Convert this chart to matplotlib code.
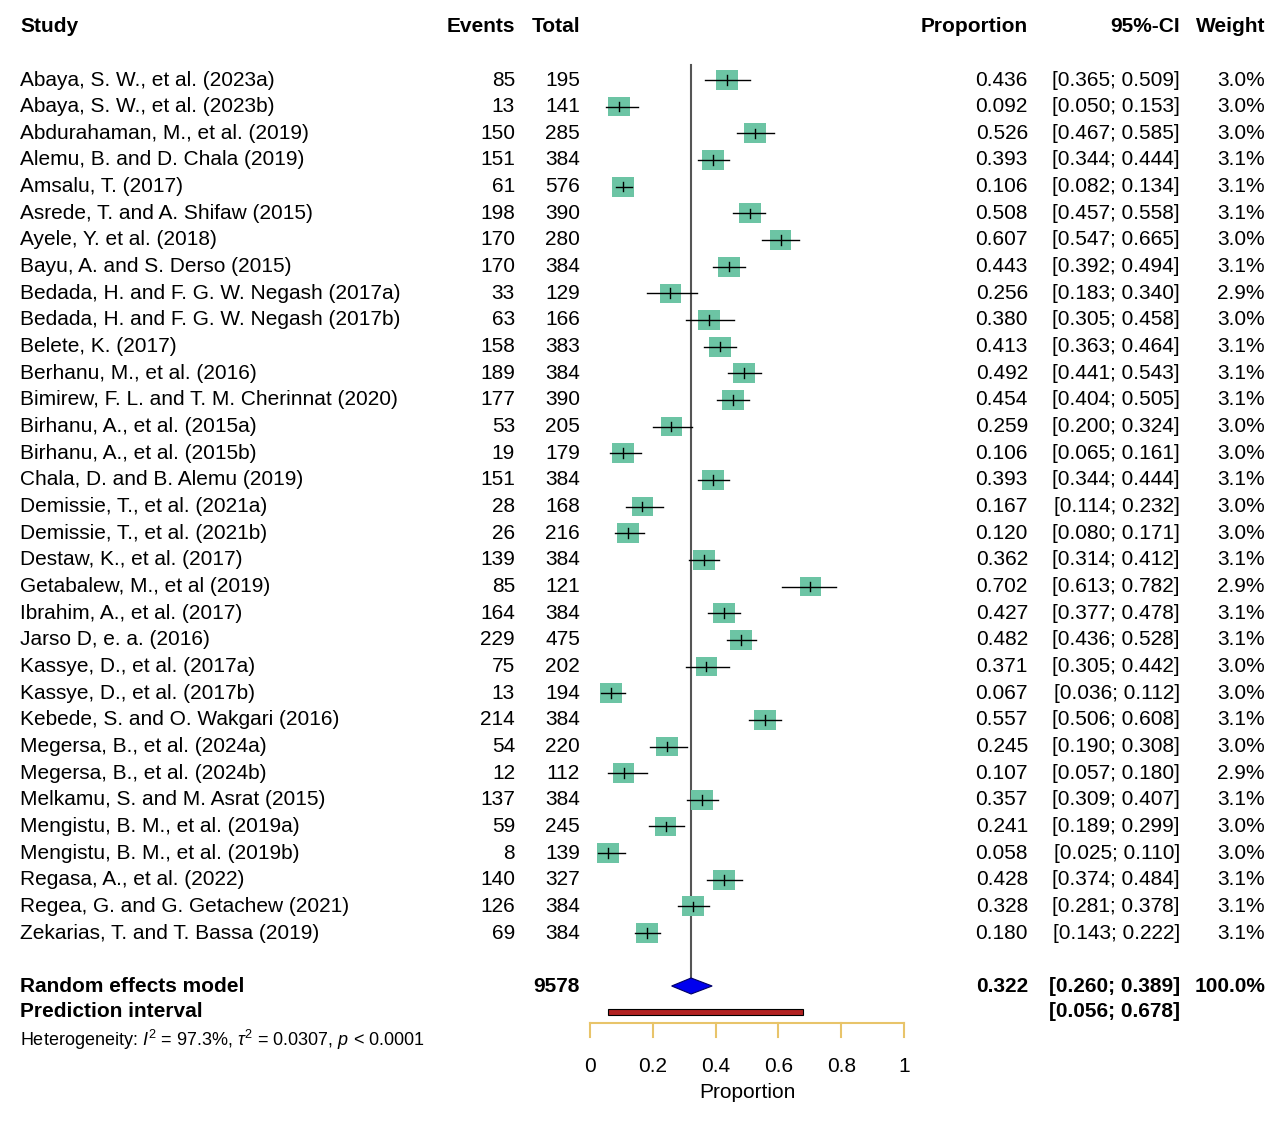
import matplotlib
matplotlib.use("Agg")
import matplotlib.pyplot as plt
from matplotlib.patches import Rectangle, Polygon

plt.rcParams['font.family'] = ['Liberation Sans', 'DejaVu Sans']
plt.rcParams['mathtext.fontset'] = 'custom'
plt.rcParams['mathtext.it'] = 'Liberation Sans:italic'
plt.rcParams['mathtext.rm'] = 'Liberation Sans'

studies = ["Abaya, S. W., et al. (2023a)","Abaya, S. W., et al. (2023b)","Abdurahaman, M., et al. (2019)",
"Alemu, B. and D. Chala (2019)","Amsalu, T. (2017)","Asrede, T. and A. Shifaw (2015)","Ayele, Y. et al. (2018)",
"Bayu, A. and S. Derso (2015)","Bedada, H. and F. G. W. Negash (2017a)","Bedada, H. and F. G. W. Negash (2017b)",
"Belete, K. (2017)","Berhanu, M., et al. (2016)","Bimirew, F. L. and T. M. Cherinnat (2020)","Birhanu, A., et al. (2015a)",
"Birhanu, A., et al. (2015b)","Chala, D. and B. Alemu (2019)","Demissie, T., et al. (2021a)","Demissie, T., et al. (2021b)",
"Destaw, K., et al. (2017)","Getabalew, M., et al (2019)","Ibrahim, A., et al. (2017)","Jarso D, e. a. (2016)",
"Kassye, D., et al. (2017a)","Kassye, D., et al. (2017b)","Kebede, S. and O. Wakgari (2016)","Megersa, B., et al. (2024a)",
"Megersa, B., et al. (2024b)","Melkamu, S. and M. Asrat (2015)","Mengistu, B. M., et al. (2019a)","Mengistu, B. M., et al. (2019b)",
"Regasa, A., et al. (2022)","Regea, G. and G. Getachew (2021)","Zekarias, T. and T. Bassa (2019)"]
events = [85,13,150,151,61,198,170,170,33,63,158,189,177,53,19,151,28,26,139,85,164,229,75,13,214,54,12,137,59,8,140,126,69]
totals = [195,141,285,384,576,390,280,384,129,166,383,384,390,205,179,384,168,216,384,121,384,475,202,194,384,220,112,384,245,139,327,384,384]
prop = [0.436,0.092,0.526,0.393,0.106,0.508,0.607,0.443,0.256,0.380,0.413,0.492,0.454,0.259,0.106,0.393,0.167,0.120,0.362,0.702,0.427,0.482,0.371,0.067,0.557,0.245,0.107,0.357,0.241,0.058,0.428,0.328,0.180]
lo = [0.365,0.050,0.467,0.344,0.082,0.457,0.547,0.392,0.183,0.305,0.363,0.441,0.404,0.200,0.065,0.344,0.114,0.080,0.314,0.613,0.377,0.436,0.305,0.036,0.506,0.190,0.057,0.309,0.189,0.025,0.374,0.281,0.143]
hi = [0.509,0.153,0.585,0.444,0.134,0.558,0.665,0.494,0.340,0.458,0.464,0.543,0.505,0.324,0.161,0.444,0.232,0.171,0.412,0.782,0.478,0.528,0.442,0.112,0.608,0.308,0.180,0.407,0.299,0.110,0.484,0.378,0.222]
weights = [3.0,3.0,3.0,3.1,3.1,3.1,3.0,3.1,2.9,3.0,3.1,3.1,3.1,3.0,3.0,3.1,3.0,3.0,3.1,2.9,3.1,3.1,3.0,3.0,3.1,3.0,2.9,3.1,3.0,3.0,3.1,3.1,3.1]
re_est, re_lo, re_hi = 0.322, 0.260, 0.389
pi_lo, pi_hi = 0.056, 0.678
total_n = 9578
ticks = [0, 0.2, 0.4, 0.6, 0.8, 1]
tick_labels = ["0", "0.2", "0.4", "0.6", "0.8", "1"]

W, H = 1280, 1125
fig = plt.figure(figsize=(W/100, H/100), dpi=100)
ax = fig.add_axes([0, 0, 1, 1])
x0, sx = 590, 314.0
y0, sy = 80, 26.66
ax.set_xlim(-x0/sx, (W-x0)/sx)
ax.set_ylim((H-y0)/sy, -y0/sy)
ax.axis("off")
def px(p): return (p - x0)/sx
fs = 15
n = len(studies)
hdr = -53/sy
ax.text(px(20), hdr, "Study", fontsize=fs, fontweight="bold", va="center", ha="left")
ax.text(px(515), hdr, "Events", fontsize=fs, fontweight="bold", va="center", ha="right")
ax.text(px(580), hdr, "Total", fontsize=fs, fontweight="bold", va="center", ha="right")
ax.text(px(1028), hdr, "Proportion", fontsize=fs, fontweight="bold", va="center", ha="right")
ax.text(px(1180), hdr, "95%-CI", fontsize=fs, fontweight="bold", va="center", ha="right")
ax.text(px(1265), hdr, "Weight", fontsize=fs, fontweight="bold", va="center", ha="right")

for i in range(n):
    ax.text(px(20), i, studies[i], fontsize=fs, va="center", ha="left")
    ax.text(px(515), i, str(events[i]), fontsize=fs, va="center", ha="right")
    ax.text(px(580), i, str(totals[i]), fontsize=fs, va="center", ha="right")
    ax.text(px(1028), i, f"{prop[i]:.3f}", fontsize=fs, va="center", ha="right")
    ax.text(px(1180), i, f"[{lo[i]:.3f}; {hi[i]:.3f}]", fontsize=fs, va="center", ha="right")
    ax.text(px(1265), i, f"{weights[i]:.1f}%", fontsize=fs, va="center", ha="right")
    s = (weights[i]/3.1)**0.5
    w = 22/sx*s; h = 20/sy*s
    ax.add_patch(Rectangle((prop[i]-w/2, i-h/2), w, h, facecolor="#6cc4a4", edgecolor="none", zorder=2))
    ax.plot([lo[i], hi[i]], [i, i], color="black", lw=1.0, zorder=3)
    ax.plot([prop[i], prop[i]], [i-0.18, i+0.18], color="black", lw=1.0, zorder=3)

ry = (986-y0)/sy
py = (1012-y0)/sy
ax.plot([re_est, re_est], [-15/sy, ry], color="#555555", lw=1.5, zorder=1)
dh = 8/sy
ax.add_patch(Polygon([[re_lo, ry], [re_est, ry-dh], [re_hi, ry], [re_est, ry+dh]], closed=True,
                     facecolor="#0000ee", edgecolor="#000066", lw=0.8, zorder=4))
ax.add_patch(Rectangle((pi_lo, py-3/sy), pi_hi-pi_lo, 6/sy, facecolor="#b22222", edgecolor="black", lw=0.8, zorder=4))
ax.text(px(20), ry, "Random effects model", fontsize=fs, fontweight="bold", va="center", ha="left")
ax.text(px(580), ry, str(total_n), fontsize=fs, fontweight="bold", va="center", ha="right")
ax.text(px(1028), ry, f"{re_est:.3f}", fontsize=fs, fontweight="bold", va="center", ha="right")
ax.text(px(1180), ry, f"[{re_lo:.3f}; {re_hi:.3f}]", fontsize=fs, fontweight="bold", va="center", ha="right")
ax.text(px(1265), ry, "100.0%", fontsize=fs, fontweight="bold", va="center", ha="right")
ax.text(px(20), py, "Prediction interval", fontsize=fs, fontweight="bold", va="center", ha="left")
ax.text(px(1180), py, f"[{pi_lo:.3f}; {pi_hi:.3f}]", fontsize=fs, fontweight="bold", va="center", ha="right")
ax.text(px(20), (1040-y0)/sy, r"Heterogeneity: $I^2$ = 97.3%, $\tau^2$ = 0.0307, $p$ < 0.0001",
        fontsize=13, va="center", ha="left")

ay = (1023-y0)/sy
ax.plot([0, 1], [ay, ay], color="#e8c46a", lw=1.5)
for t, lab in zip(ticks, tick_labels):
    ax.plot([t, t], [ay, ay+14/sy], color="#e8c46a", lw=1.5)
    ax.text(t, (1066-y0)/sy, lab, fontsize=fs, va="center", ha="center")
ax.text(0.5, (1092-y0)/sy, "Proportion", fontsize=fs, va="center", ha="center")
fig.savefig("out.png", dpi=100)
